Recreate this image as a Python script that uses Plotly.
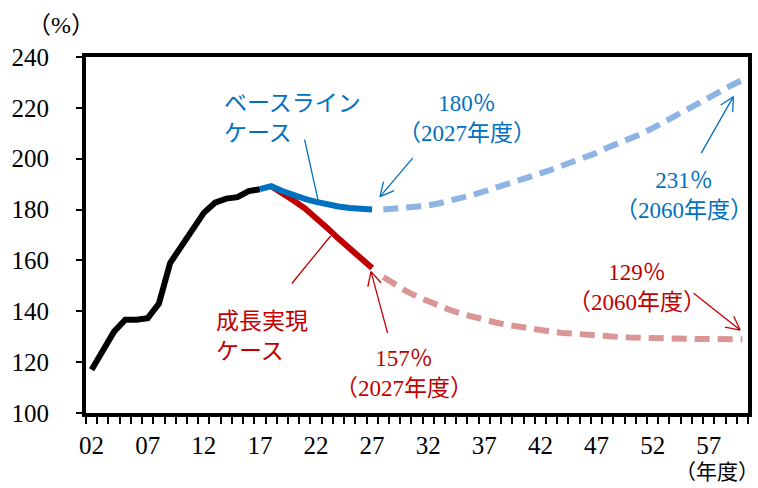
import math
import plotly.graph_objects as go

# Public debt to GDP ratio (%), fiscal years
actual_years = list(range(2002, 2018))
actual_ratio = [117, 124, 132, 136.7, 136.7, 137.3, 143, 159, 165.5, 171.5,
                178.7, 182.7, 184.3, 184.9, 187.3, 188]

baseline_years = list(range(2017, 2028))
baseline_ratio = [188, 189.2, 187.3, 185.6, 184.2, 183, 182, 181.2, 180.6, 180.2, 180]

growth_years = list(range(2018, 2028))
growth_ratio = [189.2, 186.6, 183.6, 180.5, 176.8, 172.8, 168.6, 164.6, 160.6, 157]

proj_years = list(range(2028, 2061))
baseline_proj = [180.0, 180.3, 180.6, 181.2, 181.6, 182.5, 183.5, 184.6, 185.8, 187.2,
                 188.5, 189.9, 191.4, 192.8, 194.2, 195.7, 197.4, 198.9, 200.3, 202.3,
                 204.4, 206.0, 207.7, 209.8, 212.0, 214.3, 216.6, 219.0, 221.5, 223.8,
                 226.4, 228.8, 231.0]
growth_proj = [153.5, 150.5, 148.0, 145.8, 143.9, 142.1, 140.4, 139.0, 137.7, 136.6,
               135.6, 134.7, 133.9, 133.2, 132.6, 132.0, 131.5, 131.1, 130.7, 130.4,
               130.1, 129.9, 129.7, 129.5, 129.4, 129.3, 129.2, 129.2, 129.1, 129.1,
               129.0, 129.0, 129.0]

tick_years = list(range(2002, 2060, 5))
tick_text = [f"{y % 100:02d}" for y in tick_years]
# small tick marks sit on the boundaries between fiscal years
year_bounds = [y - 0.5 for y in range(2002, 2062)]

BLUE = "#0070C0"
RED = "#C00000"
LIGHT_BLUE = "#8EB4E3"
LIGHT_RED = "#D99694"
SERIF = "Liberation Serif, Noto Sans CJK JP"

fig = go.Figure()
fig.add_trace(go.Scatter(x=proj_years, y=baseline_proj, mode="lines",
                         line=dict(color=LIGHT_BLUE, width=6, dash="15px,8px")))
fig.add_trace(go.Scatter(x=proj_years, y=growth_proj, mode="lines",
                         line=dict(color=LIGHT_RED, width=6, dash="15px,8px")))
fig.add_trace(go.Scatter(x=actual_years, y=actual_ratio, mode="lines",
                         line=dict(color="black", width=6)))
fig.add_trace(go.Scatter(x=growth_years, y=growth_ratio, mode="lines",
                         line=dict(color=RED, width=6)))
fig.add_trace(go.Scatter(x=baseline_years, y=baseline_ratio, mode="lines",
                         line=dict(color=BLUE, width=6)))
# transparent copy that carries the year-boundary tick axis
fig.add_trace(go.Scatter(x=actual_years, y=actual_ratio, mode="lines", opacity=0,
                         xaxis="x2", hoverinfo="skip"))

annotations = []


def label(text, x, y, color, xanchor="center", align="center"):
    annotations.append(dict(x=x, y=y, xref="x", yref="y", text=text, showarrow=False,
                            xanchor=xanchor, yanchor="middle", align=align,
                            font=dict(family=SERIF, size=23, color=color)))


def pointer(x, y, ax, ay, color, head=True):
    annotations.append(dict(x=x, y=y, xref="x", yref="y", ax=ax, ay=ay, text="",
                            showarrow=True, arrowhead=0, arrowwidth=1.3,
                            arrowcolor=color, standoff=0))
    if head:
        n = math.hypot(ax, ay)
        ux, uy = ax / n, ay / n
        for s in (1, -1):
            t = math.radians(27) * s
            rx = ux * math.cos(t) - uy * math.sin(t)
            ry = ux * math.sin(t) + uy * math.cos(t)
            annotations.append(dict(x=x, y=y, xref="x", yref="y", ax=rx * 17, ay=ry * 17,
                                    text="", showarrow=True, arrowhead=0, arrowwidth=1.3,
                                    arrowcolor=color, standoff=0))


label("ベースライン<br>ケース", 2013.6, 216, BLUE, xanchor="left", align="left")
pointer(2022.2, 183.3, -14, -63, BLUE, head=False)
label("180％<br>（2027年度）", 2035.5, 216, BLUE)
pointer(2027.7, 185.1, 34, -40, BLUE)
label("231％<br>（2060年度）", 2054.8, 185.7, BLUE)
pointer(2059.2, 224.4, -33, 58, BLUE)

label("成長実現<br>ケース", 2012.9, 130, RED, xanchor="left", align="left")
pointer(2023.3, 169.6, -40, 49, RED, head=False)
label("157％<br>（2027年度）", 2029.8, 115.7, RED)
pointer(2026.9, 155.6, 17, 63, RED)
label("129％<br>（2060年度）", 2050.6, 149.5, RED)
pointer(2059.8, 132.6, -48, -38, RED)

W, H = 758, 488
L, R, T, B = 86, 6, 57, 75
PW, PH = W - L - R, H - T - B

# unit labels for the two axes
annotations.append(dict(x=(61 - L) / PW, y=1 + (T - 25) / PH, xref="paper", yref="paper",
                        text="（%）", showarrow=False, xanchor="center", yanchor="middle",
                        font=dict(family=SERIF, size=24, color="black")))
annotations.append(dict(x=(721 - L) / PW, y=-(472 - (H - B)) / PH, xref="paper",
                        yref="paper", text="（年度）", showarrow=False,
                        xanchor="center", yanchor="middle",
                        font=dict(family=SERIF, size=21, color="black")))

fig.update_layout(
    width=W, height=H,
    margin=dict(l=L, r=R, t=T, b=B),
    paper_bgcolor="white", plot_bgcolor="white",
    showlegend=False,
    annotations=annotations,
    xaxis=dict(range=[2001.5, 2060.5], tickmode="array", tickvals=tick_years,
               ticktext=tick_text, ticks="", showgrid=False, zeroline=False,
               showline=True, linecolor="black", linewidth=4, mirror=True,
               ticklabelstandoff=7,
               tickfont=dict(family=SERIF, size=25, color="black")),
    xaxis2=dict(range=[2001.5, 2060.5], overlaying="x", side="bottom", anchor="y",
                tickmode="array", tickvals=year_bounds, ticks="outside", ticklen=10,
                tickwidth=1.6, tickcolor="black", showticklabels=False,
                showgrid=False, zeroline=False, showline=False),
    yaxis=dict(range=[100, 240], tickmode="linear", tick0=100, dtick=20,
               ticks="outside", ticklen=6, tickwidth=2, tickcolor="black",
               showgrid=False, zeroline=False, showline=True, linecolor="black",
               linewidth=4, mirror=True, ticklabelstandoff=22,
               tickfont=dict(family=SERIF, size=25, color="black")),
)

fig.write_html("out.html")
